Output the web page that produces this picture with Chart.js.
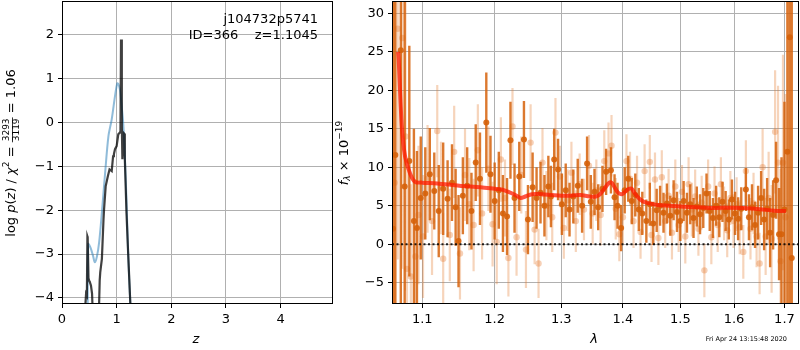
<!DOCTYPE html>
<html lang="en">
<head>
  <meta charset="UTF-8">
  <title>p(z) and spectrum</title>
  <script src="https://cdn.jsdelivr.net/npm/chart.js"></script>
  <style>
    body { margin: 0; background: #fff; }
    .wrap { position: relative; width: 800px; height: 350px; }
    canvas { position: absolute; top: 0; }
  </style>
</head>
<body>
<div class="wrap">
  <canvas id="pz" width="340" height="350" style="left:0"></canvas>
  <canvas id="spec" width="465" height="350" style="left:335px"></canvas>
</div>
<script>
// ---- left panel: log p(z)
const pzBlueZ = [0.47, 0.48, 0.52, 0.57, 0.60, 0.64, 0.68, 0.73, 0.79, 0.85, 0.91, 0.97, 1.01, 1.03, 1.06, 1.09, 1.12, 1.15, 1.18, 1.21, 1.25, 1.27];
const pzBlue  = [-4.5, -2.77, -2.85, -3.05, -3.19, -3.05, -2.73, -2.05, -1.14, -0.31, 0.07, 0.60, 0.89, 0.88, 0.75, 0.40, -0.01, -0.77, -1.75, -2.96, -4.11, -4.6];
const pzDarkZ = [0.42, 0.43, 0.44, 0.455, 0.465, 0.47, 0.485, 0.50, 0.51, 0.53, 0.55, 0.57, 0.62, 0.67, 0.69, 0.70, 0.73, 0.76, 0.77, 0.80, 0.84, 0.87, 0.89, 0.91, 0.935, 0.95, 0.97, 1.00, 1.03, 1.06, 1.07, 1.08, 1.095, 1.105, 1.115, 1.12, 1.135, 1.15, 1.18, 1.21, 1.25, 1.27];
const pzDark  = [-4.6, -4.11, -3.91, -3.95, -2.6, -2.62, -3.55, -3.62, -3.64, -3.72, -3.9, -4.6, -5.5, -4.6, -3.6, -3.42, -3.11, -2.2, -1.98, -1.45, -1.22, -1.07, -1.09, -1.11, -0.77, -0.72, -0.61, -0.54, -0.27, -0.23, -0.2, 1.89, -0.08, -0.84, -0.84, -0.23, -0.25, -0.84, -2.05, -2.96, -4.11, -4.8];
const zTicks = [0, 1, 2, 3, 4];
const pzTicks = [-4, -3, -2, -1, 0, 1, 2];

// ---- right panel: spectrum (lambda in micron, flux x 1e-19)
const darkLam = [1.062, 1.065, 1.072, 1.077, 1.083, 1.089, 1.093, 1.098, 1.104, 1.110, 1.116, 1.122, 1.128, 1.134, 1.140, 1.145, 1.149, 1.155, 1.161, 1.167, 1.173, 1.179, 1.188, 1.194, 1.200, 1.206, 1.212, 1.218, 1.223, 1.229, 1.236, 1.243, 1.249, 1.256, 1.262, 1.268, 1.274, 1.280, 1.284, 1.289, 1.295, 1.301, 1.307, 1.313, 1.319, 1.326, 1.333, 1.341, 1.347, 1.353, 1.359, 1.366, 1.372, 1.380, 1.386, 1.391, 1.397, 1.403, 1.409, 1.415, 1.421, 1.427, 1.433, 1.440, 1.446, 1.452, 1.458, 1.464, 1.470, 1.476, 1.482, 1.488, 1.494, 1.500, 1.506, 1.512, 1.518, 1.524, 1.530, 1.536, 1.542, 1.548, 1.554, 1.560, 1.566, 1.572, 1.578, 1.584, 1.590, 1.596, 1.602, 1.608, 1.614, 1.623, 1.629, 1.635, 1.641, 1.647, 1.653, 1.659, 1.665, 1.671, 1.677, 1.683, 1.689, 1.694, 1.700, 1.706, 1.711, 1.715];
const darkFlux = [2.0, 11.6, 25.2, 7.5, 10.8, 3.0, 2.1, 6.0, 6.6, 9.1, 6.9, 4.3, 7.2, 5.9, 8.0, 4.8, 0.4, 6.3, 7.6, 4.3, 10.6, 8.5, 15.8, 9.1, 5.6, 7.0, 4.0, 3.6, 13.5, 6.0, 8.8, 13.6, 3.2, 7.4, 6.0, 6.7, 5.0, 7.5, 6.2, 11.0, 9.7, 5.2, 7.0, 4.5, 6.2, 7.6, 5.0, 10.5, 5.5, 6.8, 4.8, 7.2, 9.4, 9.6, 6.1, 5.0, 2.1, 7.0, 8.5, 5.6, 6.4, 4.5, 4.0, 3.0, 5.2, 2.7, 4.4, 5.0, 4.1, 5.3, 3.7, 5.7, 4.2, 3.0, 5.6, 4.1, 5.2, 3.4, 4.9, 3.9, 4.7, 6.6, 4.3, 3.4, 5.0, 3.5, 5.5, 4.3, 3.2, 5.8, 4.0, 3.3, 4.6, 7.1, 3.5, 4.8, 2.5, 4.1, 6.0, 3.2, 4.6, 1.5, 3.8, 8.3, 1.3, 1.3, 4.5, 12.0, 26.9, -1.8];
const darkErr = [40, 40, 40, 30, 15, 12, 10, 8, 6, 6, 5, 6, 6, 5, 5, 5, 6, 5, 5, 5, 5, 6, 6.5, 5, 5, 5, 5, 5, 5, 4.5, 4.5, 5, 4.5, 4.5, 4, 4, 4, 4, 4, 4, 4, 4, 3.5, 3.5, 3.5, 3.5, 3.5, 3.5, 3.5, 3, 3, 3, 3, 3, 3, 3, 3, 3, 3, 3, 2.8, 2.8, 2.8, 2.8, 2.8, 2.8, 2.8, 2.6, 2.6, 2.6, 2.6, 2.6, 2.6, 2.6, 2.6, 2.6, 2.6, 2.6, 2.6, 2.6, 2.6, 2.6, 2.6, 2.6, 2.6, 2.6, 2.6, 2.6, 2.6, 2.6, 2.8, 2.8, 2.8, 2.8, 3, 3, 3, 3.5, 3.5, 4, 4, 4.5, 4.5, 5, 6, 10, 14, 40, 40, 40];

const lightLam = [1.064, 1.068, 1.074, 1.078, 1.080, 1.085, 1.091, 1.095, 1.101, 1.107, 1.113, 1.120, 1.125, 1.128, 1.137, 1.143, 1.151, 1.158, 1.164, 1.170, 1.176, 1.182, 1.191, 1.197, 1.203, 1.209, 1.215, 1.220, 1.226, 1.232, 1.239, 1.246, 1.253, 1.259, 1.265, 1.271, 1.277, 1.286, 1.291, 1.298, 1.304, 1.310, 1.316, 1.323, 1.329, 1.336, 1.344, 1.350, 1.356, 1.363, 1.369, 1.376, 1.381, 1.388, 1.394, 1.400, 1.406, 1.412, 1.418, 1.424, 1.430, 1.437, 1.446, 1.449, 1.455, 1.461, 1.467, 1.473, 1.479, 1.485, 1.491, 1.497, 1.503, 1.509, 1.515, 1.521, 1.527, 1.533, 1.539, 1.544, 1.551, 1.557, 1.563, 1.569, 1.575, 1.581, 1.587, 1.593, 1.599, 1.605, 1.611, 1.618, 1.623, 1.632, 1.638, 1.644, 1.650, 1.656, 1.662, 1.668, 1.674, 1.681, 1.687, 1.692, 1.697, 1.702];
const lightFlux = [8.0, 28.0, 26.8, 14.0, -3.2, -4.2, -1.6, 3.8, 1.0, 8.5, 3.0, 14.7, 7.3, -1.9, 1.2, 12.0, -1.2, 9.0, 5.2, 2.5, 12.2, 4.0, 9.8, 2.6, 0.3, 11.0, 6.0, -1.8, 15.3, 0.9, 9.0, -0.7, 13.2, 1.9, -2.5, 10.6, 5.0, 3.5, 14.5, 8.8, 2.1, 5.7, 9.3, 3.0, 7.8, 4.5, 10.2, 4.0, 7.0, 3.8, 10.8, 11.8, 12.8, 4.6, 1.3, 3.5, 10.8, 8.5, 3.0, 8.0, 1.6, 9.5, 10.7, 1.2, 8.4, 0.8, 8.7, 3.0, 6.3, 1.5, 7.5, 2.5, 6.8, 1.0, 7.8, 4.5, 6.2, 2.0, 5.4, -3.4, 7.5, 0.9, 6.6, 2.5, 7.8, 4.0, 1.8, 6.0, 3.0, 5.2, 2.2, -1.0, 9.5, 2.0, 5.3, 1.0, -2.5, 10.0, 1.0, 6.0, 0.7, 14.6, 10.6, -2.2, 10.6, 3.5];
const lightErr = [35, 30, 30, 20, 14, 12, 10, 9, 8, 7, 7, 6, 6, 6, 6, 6, 6, 6, 6, 6, 6, 6, 5.5, 5.5, 5.5, 5.5, 5, 5, 5, 5, 5, 5, 5, 4.5, 4.5, 4.5, 4.5, 4.5, 4.5, 4, 4, 4, 4, 4, 4, 4, 4, 4, 4, 4, 4, 4, 4, 4, 3.5, 3.5, 3.5, 3.5, 3.5, 3.5, 3.5, 3.5, 3.5, 3.5, 3.5, 3.5, 3.5, 3.5, 3.5, 3.5, 3.5, 3.5, 3.5, 3.5, 3.5, 3.5, 3.5, 3.5, 3.5, 3.5, 3.5, 3.5, 3.5, 3.5, 3.5, 3.5, 3.5, 3.5, 3.5, 3.5, 3.5, 3.5, 4, 4, 4, 4, 4, 5, 5, 6, 7, 8, 10, 12, 14, 16];

const modelLam = [1.0685, 1.0693, 1.0733, 1.0775, 1.084, 1.0905, 1.100, 1.120, 1.150, 1.180, 1.200, 1.210, 1.220, 1.230, 1.238, 1.245, 1.255, 1.270, 1.285, 1.300, 1.315, 1.330, 1.345, 1.355, 1.362, 1.370, 1.376, 1.381, 1.386, 1.392, 1.398, 1.405, 1.410, 1.415, 1.420, 1.428, 1.436, 1.445, 1.460, 1.480, 1.500, 1.530, 1.560, 1.590, 1.620, 1.650, 1.680, 1.703];
const modelFlux = [25.0, 23.9, 15.3, 11.4, 9.2, 8.1, 8.0, 7.9, 7.6, 7.4, 7.2, 7.1, 6.8, 6.4, 6.0, 6.2, 6.5, 6.5, 6.4, 6.3, 6.3, 6.4, 6.2, 6.2, 6.5, 7.3, 7.9, 8.0, 7.4, 6.7, 6.5, 6.9, 7.2, 7.2, 6.6, 5.9, 5.5, 5.3, 5.1, 5.0, 4.9, 4.8, 4.7, 4.75, 4.7, 4.55, 4.35, 4.3];

const lamTicks = [1.1, 1.2, 1.3, 1.4, 1.5, 1.6, 1.7];
const fluxTicks = [-5, 0, 5, 10, 15, 20, 25, 30];

const FONT = 'DejaVu Sans';
const GRID = '#b0b0b0';
const minus = v => (v < 0 ? '\u2212' + Math.abs(v) : String(v));

// error bars as broken line segments: low, high, gap
function errSegments(xs, ys, es) {
  const out = [];
  xs.forEach((x, i) => {
    out.push({x: x, y: ys[i] - es[i]}, {x: x, y: ys[i] + es[i]}, {x: x, y: null});
  });
  return out;
}

// draws pieces of text one after another, centred, optionally rotated
function richText(ctx, parts, cx, cy, rot) {
  let w = 0;
  parts.forEach(p => {
    ctx.font = p.font;
    if (p.frac) {
      p.w = Math.max(ctx.measureText(p.frac[0]).width, ctx.measureText(p.frac[1]).width) + 2;
    } else {
      p.w = ctx.measureText(p.t).width;
    }
    w += p.w;
  });
  ctx.save();
  ctx.translate(cx, cy);
  ctx.rotate(rot);
  ctx.fillStyle = '#000';
  ctx.strokeStyle = '#000';
  ctx.textBaseline = 'middle';
  let x = -w / 2;
  parts.forEach(p => {
    ctx.font = p.font;
    if (p.frac) {
      ctx.textAlign = 'center';
      ctx.fillText(p.frac[0], x + p.w / 2, -5);
      ctx.fillText(p.frac[1], x + p.w / 2, 5);
      ctx.lineWidth = 0.8;
      ctx.beginPath();
      ctx.moveTo(x, 0.5);
      ctx.lineTo(x + p.w, 0.5);
      ctx.stroke();
    } else {
      ctx.textAlign = 'left';
      ctx.fillText(p.t, x, p.dy || 0);
    }
    x += p.w;
  });
  ctx.restore();
}

const framePlugin = {
  id: 'frame',
  afterDraw(chart) {
    const {ctx, chartArea: a} = chart;
    ctx.save();
    ctx.strokeStyle = '#000';
    ctx.lineWidth = 1;
    ctx.strokeRect(Math.round(a.left) + 0.5, Math.round(a.top) + 0.5, Math.round(a.right - a.left) - 1, Math.round(a.bottom - a.top) - 1);
    ctx.restore();
  }
};

// fixed axis box, no extra room for overhanging tick labels
function fixBox(size) {
  return s => {
    if (s.isHorizontal()) s.height = size; else s.width = size;
    s.paddingTop = 0; s.paddingBottom = 0; s.paddingLeft = 0; s.paddingRight = 0;
  };
}

function axisOpts(min, max, ticks, type, fmt, size) {
  return {
    type: type,
    min: min,
    max: max,
    afterBuildTicks: s => { s.ticks = ticks.map(v => ({value: v})); },
    afterFit: fixBox(size),
    border: {display: false},
    grid: {color: GRID, lineWidth: 1, tickColor: '#000', tickLength: 4},
    ticks: {font: {family: FONT, size: 13}, color: '#000', padding: 4, maxRotation: 0, autoSkip: false, callback: fmt}
  };
}

const F = '13px ' + FONT;
const FI = 'italic 13px ' + FONT;
const FS = '9px ' + FONT;

// ---- left chart
new Chart(document.getElementById('pz'), {
  type: 'line',
  data: {
    datasets: [
      {
        data: pzDarkZ.map((z, i) => ({x: z, y: pzDark[i]})),
        borderColor: 'rgba(0,0,0,0.75)', borderWidth: 2.2, pointRadius: 0, tension: 0, order: 0
      },
      {
        data: pzBlueZ.map((z, i) => ({x: z, y: pzBlue[i]})),
        borderColor: 'rgba(31,119,180,0.5)', borderWidth: 2, pointRadius: 0, tension: 0.3, order: 1
      }
    ]
  },
  options: {
    responsive: false,
    animation: false,
    layout: {autoPadding: false, padding: {left: 0, right: 7, top: 1, bottom: 0}},
    plugins: {legend: {display: false}, tooltip: {enabled: false}},
    scales: {
      x: axisOpts(0, 4.96, zTicks, 'linear', v => String(v), 46),
      y: axisOpts(-4.14, 2.77, pzTicks, 'linear', v => minus(v), 62)
    }
  },
  plugins: [framePlugin, {
    id: 'pzText',
    afterDraw(chart) {
      const ctx = chart.ctx;
      ctx.save();
      ctx.fillStyle = '#000';
      ctx.font = F;
      ctx.textAlign = 'right';
      ctx.textBaseline = 'middle';
      ctx.fillText('j104732p5741', 318, 20);
      ctx.fillText('ID=366    z=1.1045', 318, 36);
      ctx.restore();
      richText(ctx, [{t: 'z', font: FI}], 196, 340, 0);
      richText(ctx, [
        {t: 'log ', font: F}, {t: 'p', font: FI}, {t: '(', font: F}, {t: 'z', font: FI},
        {t: ') / ', font: F}, {t: '\u03c7', font: FI}, {t: '2', font: FS, dy: -5},
        {t: ' = ', font: F}, {frac: ['3293', '3119'], font: FS}, {t: ' = 1.06', font: F}
      ], 12, 153, -Math.PI / 2);
    }
  }]
});

// ---- right chart
new Chart(document.getElementById('spec'), {
  type: 'scatter',
  data: {
    datasets: [
      {
        type: 'line', data: modelLam.map((l, i) => ({x: l, y: modelFlux[i]})),
        borderColor: 'rgba(255,25,0,0.75)', borderWidth: 4, pointRadius: 0, tension: 0.3, order: 0
      },
      {
        type: 'line', data: [{x: 1.0607, y: 0}, {x: 1.730, y: 0}],
        borderColor: 'rgba(0,0,0,0.85)', borderWidth: 2, borderDash: [2, 2.5], pointRadius: 0, order: 1
      },
      {
        data: darkLam.map((l, i) => ({x: l, y: darkFlux[i]})),
        backgroundColor: 'rgba(214,98,10,0.9)', borderWidth: 0, pointRadius: 3, order: 2
      },
      {
        type: 'line', data: errSegments(darkLam, darkFlux, darkErr),
        borderColor: 'rgba(214,98,10,0.85)', borderWidth: 2.4, borderCapStyle: 'butt', pointRadius: 0, spanGaps: false, order: 3
      },
      {
        data: lightLam.map((l, i) => ({x: l, y: lightFlux[i]})),
        backgroundColor: 'rgba(228,120,45,0.35)', borderWidth: 0, pointRadius: 3.2, order: 4
      },
      {
        type: 'line', data: errSegments(lightLam, lightFlux, lightErr),
        borderColor: 'rgba(228,120,45,0.32)', borderWidth: 2.2, borderCapStyle: 'butt', pointRadius: 0, spanGaps: false, order: 5
      }
    ]
  },
  options: {
    responsive: false,
    animation: false,
    layout: {autoPadding: false, padding: {left: 0, right: 1, top: 1, bottom: 0}},
    plugins: {legend: {display: false}, tooltip: {enabled: false}},
    scales: {
      x: axisOpts(1.0607, 1.730, lamTicks, 'logarithmic', v => Number(v).toFixed(1), 46),
      y: axisOpts(-7.77, 31.6, fluxTicks, 'linear', v => minus(v), 57)
    }
  },
  plugins: [framePlugin, {
    id: 'specText',
    afterDraw(chart) {
      const ctx = chart.ctx;
      richText(ctx, [{t: '\u03bb', font: FI}], 259, 340, 0);
      richText(ctx, [
        {t: 'f', font: FI}, {t: '\u03bb', font: 'italic 9px ' + FONT, dy: 3},
        {t: ' \u00d7 10', font: F}, {t: '\u221219', font: FS, dy: -5}
      ], 10, 153, -Math.PI / 2);
      ctx.save();
      ctx.fillStyle = '#000';
      ctx.font = '6.5px ' + FONT;
      ctx.textAlign = 'right';
      ctx.textBaseline = 'middle';
      ctx.fillText('Fri Apr 24 13:15:48 2020', 452, 339);
      ctx.restore();
    }
  }]
});
</script>
</body>
</html>
